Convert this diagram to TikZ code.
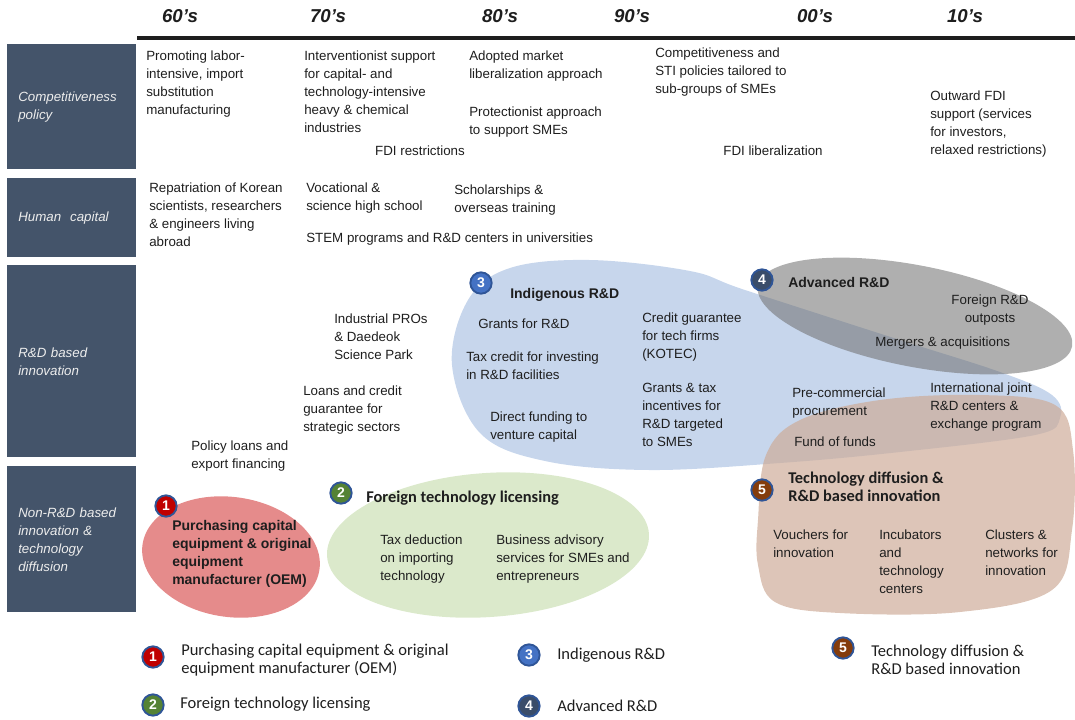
\documentclass[tikz,border=0pt]{standalone}
\usepackage{fontspec}
\setmainfont{Liberation Sans}
\newfontfamily\calfont{Carlito}
\usetikzlibrary{positioning}
\definecolor{cPanel}{HTML}{44546A}
\definecolor{cPanelTxt}{HTML}{EDEDED}
\definecolor{cInk}{HTML}{1E1E1E}
\definecolor{cBlue}{HTML}{C7D6EC}
\definecolor{cGray}{HTML}{6E6E6E}
\definecolor{cTan}{HTML}{CDAA96}
\definecolor{cRed}{HTML}{E58B8B}
\definecolor{cGreen}{HTML}{DBE9CB}
\definecolor{cRim}{HTML}{2F5597}
\definecolor{cOne}{HTML}{C00000}
\definecolor{cTwo}{HTML}{548235}
\definecolor{cThree}{HTML}{4472C4}
\definecolor{cFour}{HTML}{3A4D6A}
\definecolor{cFive}{HTML}{843C0C}
\tikzset{
  panel/.style ={fill=cPanel, anchor=north west, inner xsep=8.25pt, inner ysep=0pt,
                 text width=80.25pt, align=left, text=cPanelTxt,
                 font=\itshape\fontsize{10}{13.5}\selectfont},
  dec/.style   ={font=\bfseries\itshape\fontsize{14}{14}\selectfont, text=cInk},
  txt/.style   ={anchor=north west, align=left, inner sep=0pt, text=cInk,
                 font=\fontsize{10}{13.5}\selectfont},
  ctxt/.style  ={txt, anchor=center, align=center},
  ttl/.style   ={txt, font=\bfseries\fontsize{10.5}{13.5}\selectfont},
  cttl/.style  ={txt, font=\calfont\bfseries\fontsize{12.3}{13.5}\selectfont},
  leg/.style   ={txt, font=\calfont\fontsize{12.4}{13.5}\selectfont},
  badge/.style ={circle, draw=cRim, line width=1.4pt, fill=#1, text=white,
                 font=\bfseries\fontsize{10.5}{10.5}\selectfont, inner sep=0pt,
                 minimum size=16pt},
}

\begin{document}
\begin{tikzpicture}[x=0.75pt, y=-0.75pt]
\useasboundingbox (0,0) rectangle (1075,719);

% time axis
\foreach \d/\x in {60/180, 70/328, 80/500, 90/632, 00/815, 10/965}
  \node[dec] (d\d) at (\x,16) {\d's};
\coordinate (tl0) at (137,38);
\coordinate (tl1) at (1075,38);
\draw[line width=2.3pt, cInk] (tl0) -- (tl1);

% row panels
\foreach \nm/\y/\h/\lab in {pCP/44/93.75pt/{Competitiveness\\policy},
    pHC/178/59.25pt/{Human~~capital}, pRD/265/144pt/{R\&D based\\innovation},
    pNR/466/109.5pt/{Non-R\&D based\\innovation \&\\technology\\diffusion}}
  \node[panel, minimum height=\h] (\nm) at (7,\y) {\lab};

% blobs
\fill[cBlue] plot[smooth cycle, tension=0.6] coordinates {(452,365) (468,300) (510,268)
  (590,260) (690,271) (745,290) (900,340) (1000,372) (1052,395) (1060,418) (1035,435)
  (900,452) (780,463) (650,470) (545,461) (480,433)};
\fill[cGray, fill opacity=0.55, rotate around={-11:(915,316)}] (915,316)
  ellipse [x radius=120pt, y radius=38pt];
\fill[cTan, fill opacity=0.68] plot[smooth cycle, tension=0.6] coordinates {(758,520)
  (766,455) (800,420) (880,400) (980,395) (1055,405) (1073,450) (1072,530) (1052,590)
  (960,612) (840,613) (775,602) (758,565)};
\fill[cRed, rotate around={-8:(231,557)}] (231,557) ellipse [x radius=67pt, y radius=45pt];
\fill[cGreen, rotate around={4:(488,545)}] (488,545) ellipse [x radius=121pt, y radius=54pt];

% competitiveness policy
\node[txt] (cp60) at (146,51) {Promoting labor-\\intensive, import\\substitution\\manufacturing};
\node[txt] (cp70) at (304,51) {Interventionist support\\for capital- and\\technology-intensive\\heavy \& chemical\\industries};
\node[txt] (cp80a) at (469,51) {Adopted market\\liberalization approach};
\node[txt] (cp80b) at (469,107) {Protectionist approach\\to support SMEs};
\node[ctxt] (fdiR) at (420,151) {FDI restrictions};
\node[txt] (cp90) at (655,48) {Competitiveness and\\STI policies tailored to\\sub-groups of SMEs};
\node[ctxt] (fdiL) at (773,151) {FDI liberalization};
\node[txt] (cp10) at (930,91) {Outward FDI\\support (services\\for investors,\\relaxed restrictions)};

% human capital
\node[txt] (hc60) at (149,183) {Repatriation of Korean\\scientists, researchers\\\& engineers living\\abroad};
\node[txt] (hc70) at (306,183) {Vocational \&\\science high school};
\node[txt] (hc80) at (454,185) {Scholarships \&\\overseas training};
\node[txt] (stem) at (306,233) {STEM programs and R\&D centers in universities};

% R&D based innovation
\node[txt] (pros) at (334,314) {Industrial PROs\\\& Daedeok\\Science Park};
\node[txt] (loans) at (303,386) {Loans and credit\\guarantee for\\strategic sectors};
\node[txt] (plns) at (191,441) {Policy loans and\\export financing};

\node[badge=cThree] (b3) at (481,283) {3};
\node[ttl] (indg) at (510,288) {Indigenous R\&D};
\node[txt] (grnt) at (478,319) {Grants for R\&D};
\node[txt] (taxc) at (466,352) {Tax credit for investing\\in R\&D facilities};
\node[txt] (dirf) at (490,412) {Direct funding to\\venture capital};
\node[txt] (kotec) at (642,313) {Credit guarantee\\for tech firms\\(KOTEC)};
\node[txt] (gsme) at (642,383) {Grants \& tax\\incentives for\\R\&D targeted\\to SMEs};
\node[txt] (pcp) at (792,388) {Pre-commercial\\procurement};
\node[txt] (fof) at (794,437) {Fund of funds};
\node[txt] (intl) at (930,383) {International joint\\R\&D centers \&\\exchange program};

\node[badge=cFour] (b4) at (762,280) {4};
\node[ttl] (adv) at (788,277) {Advanced R\&D};
\node[txt, anchor=north, align=center] (outp) at (990,295) {Foreign R\&D\\outposts};
\node[txt] (ma) at (875,337) {Mergers \& acquisitions};

% non-R&D based innovation
\node[badge=cFive] (b5) at (762,490) {5};
\node[cttl] (diff) at (788,472) {Technology diffusion \&\\R\&D based innovation};
\node[txt] (vouch) at (773,530) {Vouchers for\\innovation};
\node[txt] (incub) at (879,530) {Incubators\\and\\technology\\centers};
\node[txt] (clus) at (985,530) {Clusters \&\\networks for\\innovation};

\node[badge=cOne] (b1) at (166,506) {1};
\node[ttl] (oem) at (172,520) {Purchasing capital\\equipment \& original\\equipment\\manufacturer (OEM)};
\node[badge=cTwo] (b2) at (341,493) {2};
\node[cttl] (lic) at (366,491) {Foreign technology licensing};
\node[txt] (taxd) at (380,535) {Tax deduction\\on importing\\technology};
\node[txt] (bas) at (496,535) {Business advisory\\services for SMEs and\\entrepreneurs};

% legend
\node[badge=cOne] (l1) at (153,657) {1};
\node[leg] (lt1) at (181,644) {Purchasing capital equipment \& original\\equipment manufacturer (OEM)};
\node[badge=cTwo] (l2) at (153,705) {2};
\node[leg] (lt2) at (180,697) {Foreign technology licensing};
\node[badge=cThree] (l3) at (529,655) {3};
\node[leg] (lt3) at (557,648) {Indigenous R\&D};
\node[badge=cFour] (l4) at (529,706) {4};
\node[leg] (lt4) at (557,700) {Advanced R\&D};
\node[badge=cFive] (l5) at (843,648) {5};
\node[leg] (lt5) at (871,645) {Technology diffusion \&\\R\&D based innovation};
\end{tikzpicture}
\end{document}
